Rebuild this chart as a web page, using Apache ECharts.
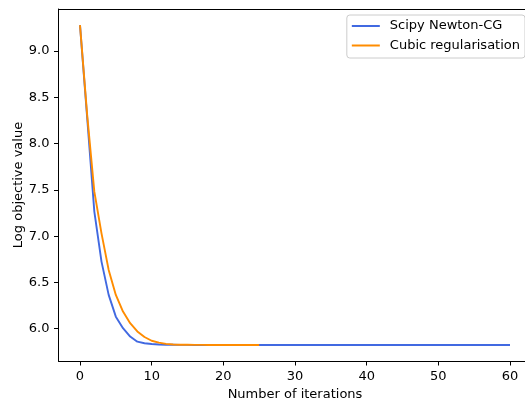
<!DOCTYPE html>
<html>
<head>
<meta charset="utf-8">
<script src="https://cdn.jsdelivr.net/npm/echarts@6/dist/echarts.min.js"></script>
<style>
  html, body { margin: 0; padding: 0; background: #fff; overflow: hidden; }
  #chart { width: 525px; height: 400px; }
</style>
</head>
<body>
<div id="chart"></div>
<script>
// values
const newtonCG = [
  9.28, 8.28, 7.265, 6.725, 6.365, 6.13, 6.005, 5.915, 5.86, 5.843,
  5.834, 5.829, 5.827, 5.826, 5.825, 5.825, 5.824, 5.824, 5.824, 5.824,
  5.824, 5.824, 5.824, 5.824, 5.824, 5.824, 5.824, 5.824, 5.824, 5.824,
  5.824, 5.824, 5.824, 5.824, 5.824, 5.824, 5.824, 5.824, 5.824, 5.824,
  5.824, 5.824, 5.824, 5.824, 5.824, 5.824, 5.824, 5.824, 5.824, 5.824,
  5.824, 5.824, 5.824, 5.824, 5.824, 5.824, 5.824, 5.824, 5.824, 5.824,
  5.824
];
const cubicReg = [
  9.28, 8.31, 7.48, 7.03, 6.635, 6.365, 6.185, 6.06, 5.97, 5.91,
  5.87, 5.85, 5.836, 5.83, 5.827, 5.826, 5.825, 5.825, 5.824, 5.824,
  5.824, 5.824, 5.824, 5.824, 5.824, 5.824
];
const xTicks = [0, 10, 20, 30, 40, 50, 60];
const yTicks = [6.0, 6.5, 7.0, 7.5, 8.0, 8.5, 9.0];

const toPairs = (arr) => arr.map((v, i) => [i, v]);

const font = 'DejaVu Sans';
const chart = echarts.init(document.getElementById('chart'), null, { renderer: 'canvas' });

chart.setOption({
  animation: false,
  backgroundColor: '#fff',
  grid: {
    // plot area runs past the right edge, as in the reference
    left: 58.5,
    right: -6.5,
    top: 9,
    bottom: 39,
    outerBoundsMode: 'none',
    containLabel: false,
    show: false
  },
  legend: {
    orient: 'vertical',
    right: 0,
    top: 15,
    padding: [3.5, 5, 5, 5],
    itemGap: 4.5,
    itemWidth: 28,
    itemHeight: 2,
    icon: 'rect',
    borderColor: '#cccccc',
    borderWidth: 1,
    borderRadius: 3,
    backgroundColor: 'rgba(255,255,255,0.8)',
    textStyle: {
      fontFamily: font,
      fontSize: 13,
      color: '#000',
      lineHeight: 15,
      padding: [0, 0, 0, 5]
    },
    data: ['Scipy Newton-CG', 'Cubic regularisation']
  },
  xAxis: [
    {
      type: 'value',
      min: -3,
      max: 63,
      name: 'Number of iterations',
      nameLocation: 'middle',
      nameGap: 27,
      nameMoveOverlap: false,
      nameTextStyle: { fontFamily: font, fontSize: 13, color: '#000' },
      splitLine: { show: false },
      axisLine: { onZero: false, lineStyle: { color: '#000', width: 1 } },
      axisTick: { customValues: xTicks, length: 4.5, lineStyle: { color: '#000', width: 1 } },
      axisLabel: {
        customValues: xTicks,
        margin: 9,
        fontFamily: font,
        fontSize: 13,
        color: '#000'
      }
    },
    {
      // top spine only
      type: 'value',
      position: 'top',
      min: -3,
      max: 63,
      splitLine: { show: false },
      axisLine: { show: true, onZero: false, lineStyle: { color: '#000', width: 1 } },
      axisTick: { show: false },
      axisLabel: { show: false }
    }
  ],
  yAxis: {
    type: 'value',
    min: 5.651,
    max: 9.454,
    name: 'Log objective value',
    nameLocation: 'middle',
    nameGap: 33.5,
    nameMoveOverlap: false,
    nameTextStyle: { fontFamily: font, fontSize: 13, color: '#000' },
    splitLine: { show: false },
    axisLine: { show: true, onZero: false, lineStyle: { color: '#000', width: 1 } },
    axisTick: { show: true, customValues: yTicks, length: 4.5, lineStyle: { color: '#000', width: 1 } },
    axisLabel: {
      customValues: yTicks,
      margin: 9,
      fontFamily: font,
      fontSize: 13,
      color: '#000',
      formatter: (v) => v.toFixed(1)
    }
  },
  series: [
    {
      name: 'Scipy Newton-CG',
      type: 'line',
      data: toPairs(newtonCG),
      showSymbol: false,
      symbol: 'none',
      color: '#4169e1',
      lineStyle: { color: '#4169e1', width: 1.9 }
    },
    {
      name: 'Cubic regularisation',
      type: 'line',
      data: toPairs(cubicReg),
      showSymbol: false,
      symbol: 'none',
      color: '#ff8c00',
      lineStyle: { color: '#ff8c00', width: 1.9 }
    }
  ]
});
</script>
</body>
</html>
